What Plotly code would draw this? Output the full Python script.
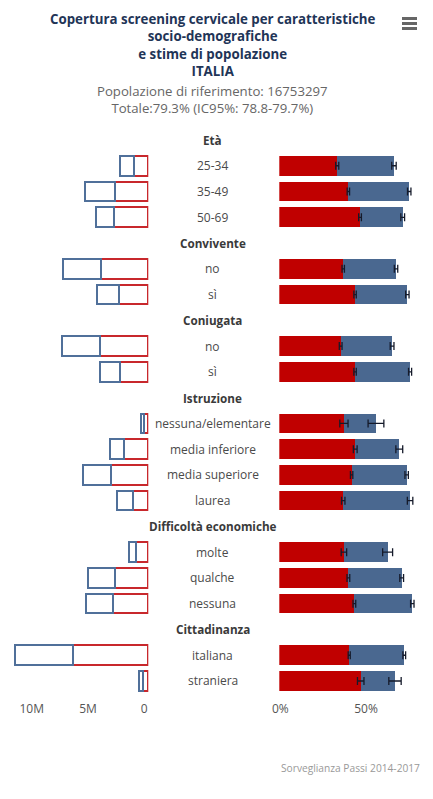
import plotly.graph_objects as go

# ---------------- data ----------------
groups = ["Età", "Convivente", "Coniugata", "Istruzione", "Difficoltà economiche", "Cittadinanza"]
group_sizes = [3, 2, 2, 4, 3, 2]
items = ["25-34", "35-49", "50-69", "no", "sì", "no", "sì",
         "nessuna/elementare", "media inferiore", "media superiore", "laurea",
         "molte", "qualche", "nessuna", "italiana", "straniera"]

# right panel: coverage (%) - red segment and blue segment (stacked)
pct_red = [33.8, 40.3, 47.1, 37.3, 44.2, 35.8, 44.2, 37.7, 44.3, 42.2, 37.3, 37.7, 40.3, 43.8, 40.8, 47.5]
pct_blue = [33.1, 35.5, 24.9, 30.8, 30.5, 30.0, 32.1, 18.7, 25.7, 32.1, 39.0, 25.5, 31.1, 33.8, 32.1, 20.0]
err_red = [0.9, 0.7, 0.8, 0.7, 0.7, 0.8, 0.7, 2.4, 1.1, 0.7, 1.0, 1.6, 0.8, 0.8, 0.6, 1.9]
err_total = [1.3, 1.0, 1.1, 1.0, 1.0, 1.1, 0.9, 4.6, 2.0, 1.0, 1.6, 2.9, 1.1, 1.0, 0.8, 3.6]

# left panel: population estimates (millions)
pop_red = [1.28, 2.95, 3.04, 4.16, 2.64, 4.25, 2.50, 0.38, 2.17, 3.33, 1.39, 1.07, 3.00, 3.13, 6.70, 0.45]
pop_blue = [1.19, 2.64, 1.63, 3.43, 1.94, 3.43, 1.81, 0.27, 1.22, 2.50, 1.43, 0.68, 2.32, 2.41, 5.14, 0.36]

left_ticks = [10, 5, 0]
left_ticktext = ["10M", "5M", "0"]
right_ticks = [0, 50]
right_ticktext = ["0%", "50%"]

title_lines = ["Copertura screening cervicale per caratteristiche",
               "socio-demografiche", "e stime di popolazione", "ITALIA"]
subtitle_lines = ["Popolazione di riferimento: 16753297", "Totale:79.3% (IC95%: 78.8-79.7%)"]
credit = "Sorveglianza Passi 2014-2017"

# ---------------- layout helpers ----------------
OFF = 8                      # page body margin
W, H = 433 - OFF, 799 - 2 * OFF
RED = "#c00000"
BLUE = "#4a6890"
RED_LINE = "#c8282c"
BLUE_LINE = "#50709a"
FONT = "Open Sans"


def px(x):
    return (x - OFF) / W


def py(y):
    return 1 - (y - OFF) / H


# compute row positions
header_pos = []
item_pos = []
p = 0
for g, n in zip(groups, group_sizes):
    header_pos.append(p)
    p += 1
    for _ in range(n):
        item_pos.append(p)
        p += 1
n_rows = p

pct_total = [r + b for r, b in zip(pct_red, pct_blue)]

fig = go.Figure()
bw = 0.76

# left panel (outlined bars)
fig.add_trace(go.Bar(orientation="h", x=pop_red, y=item_pos, width=bw,
                     marker=dict(color="white", line=dict(color=RED_LINE, width=2)),
                     xaxis="x", yaxis="y", showlegend=False, hoverinfo="skip"))
fig.add_trace(go.Bar(orientation="h", x=pop_blue, y=item_pos, width=bw,
                     marker=dict(color="white", line=dict(color=BLUE_LINE, width=2)),
                     xaxis="x", yaxis="y", showlegend=False, hoverinfo="skip"))

# right panel (filled stacked bars)
fig.add_trace(go.Bar(orientation="h", x=pct_red, y=item_pos, width=bw,
                     marker=dict(color=RED, line=dict(width=0)),
                     xaxis="x2", yaxis="y", showlegend=False, hoverinfo="skip"))
fig.add_trace(go.Bar(orientation="h", x=pct_blue, y=item_pos, width=bw,
                     marker=dict(color=BLUE, line=dict(width=0)),
                     xaxis="x2", yaxis="y", showlegend=False, hoverinfo="skip"))

# error bars
for xs, es in ((pct_red, err_red), (pct_total, err_total)):
    fig.add_trace(go.Scatter(x=xs, y=item_pos, mode="markers",
                             marker=dict(size=2, color="rgba(0,0,0,0)"),
                             error_x=dict(type="data", array=es, color="#151a2a",
                                          thickness=1.3, width=4),
                             xaxis="x2", yaxis="y", showlegend=False, hoverinfo="skip"))

# geometry in (page) pixels
x0_left = 148.3
px_per_m = 11.26
left_px_start = 10
left_max = (x0_left - left_px_start) / px_per_m
x0_right = 279.3
px_per_pct = 1.714
right_px_end = 424
right_max = (right_px_end - x0_right) / px_per_pct

row_first, row_last = 140.0, 681.0
slot = (row_last - row_first) / (n_rows - 1)
y_top_px = row_first - slot / 2
y_bot_px = row_last + slot / 2

annotations = []
cx = px(212.5)
for g, pos in zip(groups, header_pos):
    annotations.append(dict(x=cx, xref="paper", y=pos, yref="y", text="<b>" + g + "</b>",
                            showarrow=False, xanchor="center", yanchor="middle",
                            font=dict(family=FONT, size=11.7, color="#3a3a3a")))
for t, pos in zip(items, item_pos):
    annotations.append(dict(x=cx, xref="paper", y=pos, yref="y", text=t,
                            showarrow=False, xanchor="center", yanchor="middle",
                            font=dict(family=FONT, size=12, color="#4a4a4a")))

annotations.append(dict(x=px(212.5), xref="paper", y=1, yref="paper",
                        text="<br>".join("<b>" + t + "</b>" for t in title_lines),
                        showarrow=False, xanchor="center", yanchor="top",
                        font=dict(family=FONT, size=13.3, color="#1f3557")))
annotations.append(dict(x=px(212.5), xref="paper", y=py(99), yref="paper",
                        text="<br>".join(subtitle_lines), showarrow=False,
                        xanchor="center", yanchor="middle",
                        font=dict(family=FONT, size=13.2, color="#666666")))
annotations.append(dict(x=px(421.5), xref="paper", y=py(768), yref="paper",
                        text=credit, showarrow=False, xanchor="right", yanchor="middle",
                        font=dict(family=FONT, size=10.2, color="#999999")))

shapes = []
# export menu icon
for yy in (18.5, 23.5, 28.5):
    shapes.append(dict(type="line", xref="paper", yref="paper",
                       x0=px(402), x1=px(417), y0=py(yy), y1=py(yy),
                       line=dict(color="#666666", width=3)))
# container border on the right
shapes.append(dict(type="line", xref="paper", yref="paper",
                   x0=px(430.5), x1=px(430.5), y0=0, y1=1,
                   line=dict(color="#b4b4b4", width=1.2)))

fig.update_layout(
    width=W, height=H,
    margin=dict(l=0, r=0, t=0, b=0, autoexpand=False),
    paper_bgcolor="white", plot_bgcolor="white",
    barmode="stack",
    font=dict(family=FONT, color="#555555"),
    xaxis=dict(domain=[px(left_px_start), px(x0_left)], range=[left_max, 0],
               tickvals=left_ticks, ticktext=left_ticktext, showgrid=False,
               zeroline=False, showline=False, ticks="", anchor="y",
               ticklabelstandoff=6, ticklabelshift=4, automargin=False,
               tickfont=dict(family=FONT, size=12, color="#555555")),
    xaxis2=dict(domain=[px(x0_right), px(right_px_end)], range=[0, right_max],
                tickvals=right_ticks, ticktext=right_ticktext, showgrid=False,
                zeroline=False, showline=False, ticks="", anchor="y",
                ticklabelstandoff=6, ticklabelshift=1, automargin=False,
                tickfont=dict(family=FONT, size=12, color="#555555")),
    yaxis=dict(domain=[py(y_bot_px), py(y_top_px)],
               range=[n_rows - 0.5, -0.5], visible=False, automargin=False),
    annotations=annotations,
    shapes=shapes,
)

fig.write_html("out.html")
